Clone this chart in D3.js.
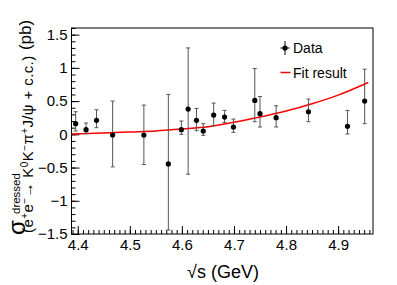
<!DOCTYPE html>
<html lang="en">
<head>
<meta charset="UTF-8" />
<title>Dressed cross section</title>
<script src="https://cdn.jsdelivr.net/npm/d3@7"></script>
<style>
    html, body { margin: 0; background: #fff; }
    svg text { font-family: "Liberation Sans", Arial, Helvetica, sans-serif; fill: #000; }
</style>
</head>
<body>
<svg id="chart" width="397" height="285"></svg>
<script>
// measured points (sqrt(s) in GeV, dressed cross section in pb)
const energies = [4.396, 4.416, 4.436, 4.467, 4.527, 4.574, 4.599, 4.612, 4.628, 4.641,
                  4.661, 4.682, 4.699, 4.740, 4.750, 4.781, 4.843, 4.918, 4.951];
const xsec     = [0.16, 0.07, 0.21, -0.01, -0.01, -0.445, 0.07, 0.38, 0.21, 0.05,
                  0.29, 0.26, 0.11, 0.51, 0.31, 0.25, 0.34, 0.12, 0.50];
const xsecLow  = [0.05, 0.01, 0.10, -0.49, -0.455, -1.44, 0.00, -0.60, 0.055, -0.015,
                  0.13, 0.18, 0.03, 0.19, 0.11, 0.11, 0.19, 0.005, 0.16];
const xsecHigh = [0.34, 0.17, 0.37, 0.50, 0.44, 0.60, 0.20, 1.30, 0.39, 0.16,
                  0.47, 0.36, 0.23, 0.99, 0.57, 0.43, 0.53, 0.36, 0.98];

// fit curve
const fitE    = [4.388, 4.45, 4.5, 4.55, 4.6, 4.65, 4.7, 4.75, 4.8, 4.85, 4.9, 4.958];
const fitXsec = [0.005, 0.02, 0.035, 0.05, 0.08, 0.115, 0.18, 0.26, 0.35, 0.46, 0.59, 0.78];

const xTicks = [4.4, 4.5, 4.6, 4.7, 4.8, 4.9];
const yTicks = [-1.5, -1, -0.5, 0, 0.5, 1, 1.5];

const mLeft = 71.5, mRight = 373, mTop = 28, mBottom = 234;

const svg = d3.select("#chart");

const x = d3.scaleLinear().domain([4.388, 4.967]).range([mLeft, mRight]);
const y = d3.scaleLinear().domain([-1.5, 1.6]).range([mBottom, mTop]);

// frame
svg.append("rect")
    .attr("x", mLeft).attr("y", mTop)
    .attr("width", mRight - mLeft).attr("height", mBottom - mTop)
    .attr("fill", "none").attr("stroke", "#000").attr("stroke-width", 1);

// minor ticks
const xMinor = d3.range(439, 497).map(d => d / 100);
const yMinor = d3.range(-15, 17).map(d => d / 10);

svg.append("g")
    .attr("transform", `translate(0,${mBottom})`)
    .call(d3.axisBottom(x).tickValues(xMinor).tickSize(-4).tickFormat(""))
    .call(g => g.select(".domain").remove());
svg.append("g")
    .attr("transform", `translate(${mLeft},0)`)
    .call(d3.axisLeft(y).tickValues(yMinor).tickSize(-4).tickFormat(""))
    .call(g => g.select(".domain").remove());

// major ticks + labels
svg.append("g")
    .attr("transform", `translate(0,${mBottom})`)
    .call(d3.axisBottom(x).tickValues(xTicks).tickSize(-8).tickPadding(5).tickFormat(d3.format(".1f")))
    .call(g => g.select(".domain").remove())
    .call(g => g.selectAll("text").attr("font-size", 15).attr("font-family", null));
svg.append("g")
    .attr("transform", `translate(${mLeft},0)`)
    .call(d3.axisLeft(y).tickValues(yTicks).tickSize(-8).tickPadding(4).tickFormat(d3.format("")))
    .call(g => g.select(".domain").remove())
    .call(g => g.selectAll("text").attr("font-size", 15).attr("font-family", null));

// fit curve
const line = d3.line().x(d => x(d[0])).y(d => y(d[1])).curve(d3.curveMonotoneX);
svg.append("path")
    .datum(d3.zip(fitE, fitXsec))
    .attr("d", line)
    .attr("fill", "none")
    .attr("stroke", "#ff0000")
    .attr("stroke-width", 1.5);

// data points with error bars
const pts = energies.map((e, i) => ({ e, v: xsec[i], lo: xsecLow[i], hi: xsecHigh[i] }));
const pg = svg.append("g");
const bar = pg.selectAll("g").data(pts).join("g");
bar.append("line")
    .attr("x1", d => x(d.e)).attr("x2", d => x(d.e))
    .attr("y1", d => y(d.lo)).attr("y2", d => y(d.hi))
    .attr("stroke", "#555").attr("stroke-width", 1);
bar.append("line")
    .attr("x1", d => x(d.e) - 2).attr("x2", d => x(d.e) + 2)
    .attr("y1", d => y(d.hi)).attr("y2", d => y(d.hi))
    .attr("stroke", "#555");
bar.append("line")
    .attr("x1", d => x(d.e) - 2).attr("x2", d => x(d.e) + 2)
    .attr("y1", d => y(d.lo)).attr("y2", d => y(d.lo))
    .attr("stroke", "#555");
bar.append("circle")
    .attr("cx", d => x(d.e)).attr("cy", d => y(d.v))
    .attr("r", 2.6).attr("fill", "#000");

// legend
const lg = svg.append("g");
lg.append("line").attr("x1", 285).attr("x2", 285).attr("y1", 41).attr("y2", 55).attr("stroke", "#000");
lg.append("line").attr("x1", 280.5).attr("x2", 289.5).attr("y1", 48).attr("y2", 48).attr("stroke", "#000");
lg.append("circle").attr("cx", 285).attr("cy", 48).attr("r", 2.6).attr("fill", "#000");
lg.append("text").attr("x", 293).attr("y", 53).attr("font-size", 14).text("Data");
lg.append("line").attr("x1", 280.5).attr("x2", 290.5).attr("y1", 72.5).attr("y2", 72.5)
    .attr("stroke", "#ff0000").attr("stroke-width", 1.5);
lg.append("text").attr("x", 293).attr("y", 77.5).attr("font-size", 14).text("Fit result");

// x axis title
svg.append("text")
    .attr("x", 223).attr("y", 278)
    .attr("text-anchor", "middle")
    .attr("font-size", 18)
    .text("\u221As (GeV)");

// y axis title (rotated)
const yl = svg.append("g").attr("transform", "rotate(-90)");
yl.append("text").attr("x", -235).attr("y", 25).attr("font-size", 24).text("\u03C3");
yl.append("text").attr("x", -214).attr("y", 19.5).attr("font-size", 11.5).text("dressed");
const sub = yl.append("text").attr("x", -233).attr("y", 33).attr("font-size", 15)
    .attr("letter-spacing", 0.4);
const subParts = [["(e", 0], ["+", 1], ["e", 0], ["\u2212", 1], ["\u2192 K", 0], ["0", 1],
                  ["K", 0], ["\u2212", 1], ["\u03C0", 0], ["+", 1], ["J/\u03C8 + c.c.)", 0]];
let raised = false;
subParts.forEach(([t, sup]) => {
    const ts = sub.append("tspan").text(t);
    if (sup && !raised) { ts.attr("dy", -5).attr("font-size", 10); raised = true; }
    else if (sup) { ts.attr("font-size", 10); }
    else if (raised) { ts.attr("dy", 5); raised = false; }
});
yl.append("text").attr("x", -35).attr("y", 31).attr("text-anchor", "middle")
    .attr("font-size", 17).text("(pb)");
</script>
</body>
</html>
